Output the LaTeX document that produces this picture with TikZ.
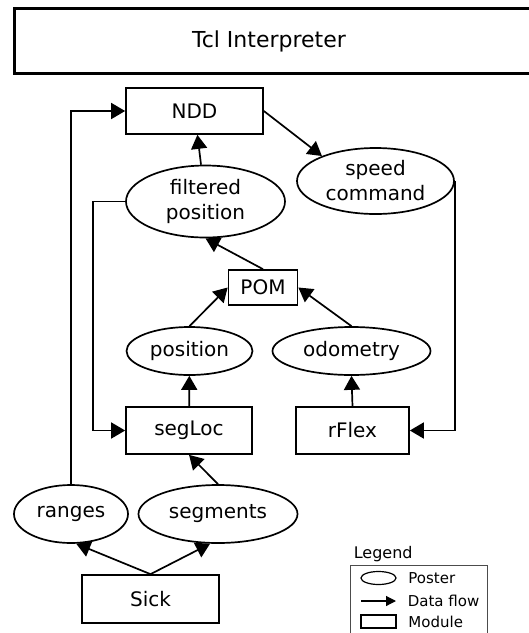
\documentclass[tikz,border=0pt]{standalone}
\usepackage{fontspec}
\setmainfont{DejaVu Sans}
\usetikzlibrary{shapes.geometric}
\usetikzlibrary{positioning}
\usetikzlibrary{arrows.meta}

\begin{document}
\begin{tikzpicture}[x=1pt,y=-1pt,>={Triangle[length=14pt,width=16pt]},
	line width=1.7pt,
	module/.style={rectangle,draw,inner sep=0pt,font=\fontsize{20}{24}\selectfont},
	poster/.style={ellipse,draw,inner sep=0pt,align=center,font=\fontsize{20}{25}\selectfont},
	legend text/.style={font=\fontsize{15}{18}\selectfont,anchor=west,inner sep=0pt}]
	
	\useasboundingbox (0,0) rectangle (529,633);
	
	% interpreter bar, runs off the right edge
	\draw[line width=3pt] (14,8) rectangle (545,73);
	\node[font=\fontsize{22}{26}\selectfont] (tcl) at (269,41) {Tcl Interpreter};
	
	\node[module,minimum width=137pt,minimum height=46pt] (ndd) at (194.5,111) {NDD};
	\node[poster,minimum width=159pt,minimum height=72pt] (filt) at (205.5,201.5) {filtered\\position};
	\node[poster,minimum width=157pt,minimum height=66pt] (speed) at (375.5,181) {speed\\command};
	\node[module,minimum width=69pt,minimum height=35pt] (pom) at (263,287.5) {POM};
	\node[poster,minimum width=126pt,minimum height=48pt] (pos) at (189.5,351) {position};
	\node[poster,minimum width=158pt,minimum height=48pt] (odo) at (351.5,351) {odometry};
	\node[module,minimum width=126pt,minimum height=47pt] (segloc) at (189,430.5) {segLoc};
	\node[module,minimum width=113pt,minimum height=47pt] (rflex) at (352.5,430.5) {rFlex};
	\node[poster,minimum width=114pt,minimum height=58pt] (ranges) at (71,514) {ranges};
	\node[poster,minimum width=159pt,minimum height=58pt] (segs) at (218,514) {segments};
	\node[module,minimum width=137pt,minimum height=48pt] (sick) at (150.5,599) {Sick};
	
	\path[->]
	(ndd.east) edge (speed.155)
	(filt) edge (ndd)
	(pom.north) edge (filt.south)
	(pos.north) edge (pom.west)
	(odo.north) edge (pom.east)
	(segloc) edge (pos)
	(rflex.north) edge (odo.south)
	(segs.north) edge (segloc.south)
	(sick.north) edge (ranges.-80)
	(sick.north) edge (segs.-105);
	
	\draw[->] (filt.west) -- ++(-32,0) |- (segloc.west);
	\draw[->] (speed.east) |- (rflex.east);
	\draw[->] (ranges.north) |- (ndd.west);
	
	% legend
	\node[anchor=west,inner sep=0pt,font=\fontsize{16}{19}\selectfont] (leg) at (353,554) {Legend};
	\draw[line width=1pt,black!70] (350,565) rectangle (487,645);
	\node[ellipse,draw,line width=1.2pt,minimum width=35pt,minimum height=13pt,inner sep=0pt] (legpost) at (378.5,578) {};
	\node[legend text,right=11pt of legpost] (lposter) {Poster};
	\coordinate (la) at (361,601);
	\coordinate (lb) at (396,601);
	\draw[->,line width=1.2pt,>={Triangle[length=10pt,width=10pt]}] (la) -- (lb);
	\node[legend text,right=11pt of lb] (ldata) {Data flow};
	\node[rectangle,draw,line width=1.2pt,minimum width=35pt,minimum height=13pt,inner sep=0pt] (legmod) at (378.5,621.5) {};
	\node[legend text,right=11pt of legmod] (lmodule) {Module};
\end{tikzpicture}
\end{document}
